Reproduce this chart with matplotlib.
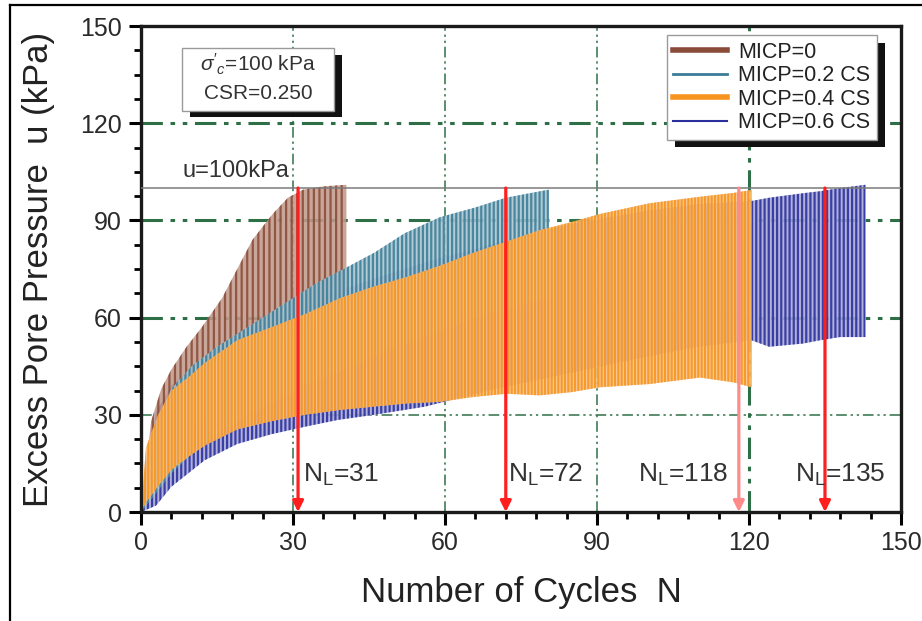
import numpy as np
import matplotlib
matplotlib.use('Agg')
from matplotlib import pyplot as plt
from matplotlib.patches import Rectangle
from matplotlib.lines import Line2D
from matplotlib.ticker import MultipleLocator

plt.rcParams['font.family'] = ['Liberation Sans', 'DejaVu Sans']
plt.rcParams['mathtext.fontset'] = 'custom'
plt.rcParams['mathtext.rm'] = 'Liberation Sans'
plt.rcParams['mathtext.it'] = 'Liberation Sans:italic'
plt.rcParams['hatch.linewidth'] = 1.6

# envelopes of the cyclic pore pressure (cycles, kPa)
n_micp0 = [0, 2, 4, 6, 9, 12, 16, 19, 22, 26, 29, 32, 36, 40.5]
hi_micp0 = [0, 28, 38, 44, 51, 57, 66, 75, 84, 92, 97, 99.5, 100.5, 101]
lo_micp0 = [0, 5, 12, 17, 23, 28, 34, 39, 44, 49, 53, 56, 59, 62]

n_micp2 = [0, 3, 6, 10, 15, 20, 25, 30, 35, 40, 46, 52, 59, 66, 72, 80.5]
hi_micp2 = [0, 28, 38, 45, 51, 56, 61, 66, 71, 75, 80, 86, 91, 94, 97, 99.5]
lo_micp2 = [0, 6, 12, 18, 24, 29, 33, 37, 41, 44, 48, 52, 56, 60, 63, 66]

n_micp4 = [0, 1, 3.4, 6, 9.3, 12.6, 19, 25.7, 32.3, 39.3, 45.8, 52.4, 59, 65.6,
           72.2, 78.7, 85, 90.6, 100.4, 110.3, 117, 120.5]
hi_micp4 = [0, 20, 30, 37.5, 41.5, 46, 53, 57, 61, 66, 69.5, 72.5, 76, 80,
            83.5, 87, 89.5, 92, 95.3, 97.3, 98.5, 99.4]
lo_micp4 = [0, 3, 8, 13, 17, 20.5, 25.5, 28, 30, 31.5, 32.5, 33.5, 34, 35.5,
            36.5, 36, 37, 38.5, 39.5, 41.5, 40, 38.5]

n_micp6 = [0, 3, 6, 12.6, 19, 25.7, 32.3, 38.8, 46, 56, 70, 85, 100, 110,
           120.5, 124, 130.7, 134, 138, 143]
hi_micp6 = [0, 31, 39, 47, 55, 59, 63, 68, 72, 77, 83, 89, 93, 95,
            96, 97, 98.4, 99, 100, 101]
lo_micp6 = [0, 2, 7.8, 16, 21, 24, 26.3, 28.4, 30, 32.5, 38, 43, 48, 51,
            53, 51, 52, 53, 54, 54]

labels = ['MICP=0', 'MICP=0.2 CS', 'MICP=0.4 CS', 'MICP=0.6 CS']
n_liq = [31, 72, 118, 135]
u_limit = 100

dark = ['#8a4b38', '#3b7d98', '#f7941d', '#2b2f9e']
light = ['#c19a8c', '#a8c4d0', '#f8c590', '#a6a8d4']
legend_lw = [4, 2, 4, 1.5]

fig = plt.figure(figsize=(9.22, 6.21), dpi=100)
ax = fig.add_axes([0.1529, 0.1755, 0.8243, 0.7826])

grid_green = '#2f6f48'
dashdot = (0, (7, 2.5, 1.5, 2.5, 1.5, 2.5))
for v in [30, 60, 90, 120]:
    thick = v in (60, 90, 120)
    ax.axhline(v, color=grid_green, lw=2.2 if thick else 1.1, ls=dashdot, zorder=1)
for v in [30, 60, 90, 120]:
    thick = v == 120
    ax.axvline(v, color=grid_green, lw=2.2 if thick else 1.1, ls=dashdot, zorder=1)

# drawing order: MICP=0.6 at the back, MICP=0.4 in front
series = [
    (n_micp6, lo_micp6, hi_micp6, 3, '||||'),
    (n_micp0, lo_micp0, hi_micp0, 0, '|||'),
    (n_micp2, lo_micp2, hi_micp2, 1, '||||'),
    (n_micp4, lo_micp4, hi_micp4, 2, '|||||'),
]
for j, (n, lo, hi, k, hatch) in enumerate(series):
    ax.fill_between(n, lo, hi, facecolor=light[k], edgecolor=dark[k],
                    hatch=hatch, linewidth=0, alpha=0.88, zorder=2 + j * 0.1)

ax.axhline(u_limit, color='#7a7a7a', lw=1.1, zorder=4)
ax.text(8.1, 103.5, 'u=100kPa', fontsize=17, color='#333333', zorder=5)

for nl in n_liq:
    col = '#ff8a8a' if nl == 118 else '#ff1f1f'
    ax.annotate('', xy=(nl, 0), xytext=(nl, u_limit),
                arrowprops=dict(arrowstyle='-|>', color=col, lw=2.3,
                                mutation_scale=16, shrinkA=0, shrinkB=0),
                zorder=6)

label_x = [32, 72.4, 98.1, 129.1]
for nl, lx in zip(n_liq, label_x):
    ax.text(lx, 9.2, r'N$_\mathrm{L}$=%d' % nl, fontsize=19, color='#333333',
            zorder=7)

ax.set_xlim(0, 150)
ax.set_ylim(0, 150)
ax.xaxis.set_major_locator(MultipleLocator(30))
ax.xaxis.set_minor_locator(MultipleLocator(6))
ax.yaxis.set_major_locator(MultipleLocator(30))
ax.yaxis.set_minor_locator(MultipleLocator(7.5))
ax.tick_params(which='major', direction='out', length=9, width=2.2,
               labelsize=18, labelcolor='#2a2a2a', pad=5)
ax.tick_params(which='minor', direction='out', length=5, width=2.0)
for sp in ax.spines.values():
    sp.set_linewidth(2.4)
    sp.set_color('#1a1a1a')

ax.set_xlabel('Number of Cycles  N', fontsize=25, color='#222222', labelpad=15)
ax.set_ylabel('Excess Pore Pressure  u (kPa)', fontsize=25, color='#222222',
              labelpad=18)

# condition box with shadow
ax.add_patch(Rectangle((0.065, 0.812), 0.2, 0.128, transform=ax.transAxes,
                       facecolor='#111111', edgecolor='none', zorder=8))
ax.add_patch(Rectangle((0.054, 0.826), 0.2, 0.128, transform=ax.transAxes,
                       facecolor='white', edgecolor='#9a9a9a', lw=1, zorder=9))
ax.text(0.154, 0.922, r"$\sigma'_c$=100 kPa", transform=ax.transAxes,
        fontsize=15, color='#333333', ha='center', va='center', zorder=10)
ax.text(0.154, 0.862, 'CSR=0.250', transform=ax.transAxes,
        fontsize=15, color='#333333', ha='center', va='center', zorder=10)

handles = [Line2D([], [], color=dark[k], lw=legend_lw[k]) for k in range(4)]
leg = ax.legend(handles, labels, loc='upper right', bbox_to_anchor=(0.968, 0.981),
                borderaxespad=0, fontsize=15.5, frameon=True, fancybox=False,
                framealpha=1, handlelength=2.5, handletextpad=0.5,
                labelspacing=0.12, borderpad=0.3)
leg.get_frame().set_edgecolor('#9a9a9a')
leg.get_frame().set_linewidth(1)
leg.set_zorder(12)
for t in leg.get_texts():
    t.set_color('#222222')

fig.canvas.draw()
bb = leg.get_window_extent().transformed(ax.transAxes.inverted())
ax.add_patch(Rectangle((bb.x0 + 0.011, bb.y0 - 0.015), bb.width, bb.height,
                       transform=ax.transAxes, facecolor='#111111',
                       edgecolor='none', zorder=11, clip_on=False))

# outer frame (top and left edges of the cropped figure)
fig.add_artist(Line2D([10 / 922, 1], [1 - 5 / 621, 1 - 5 / 621],
                      transform=fig.transFigure, color='black', lw=1.6))
fig.add_artist(Line2D([10 / 922, 10 / 922], [0, 1 - 5 / 621],
                      transform=fig.transFigure, color='black', lw=1.6))

fig.savefig('out.png', dpi=100)
